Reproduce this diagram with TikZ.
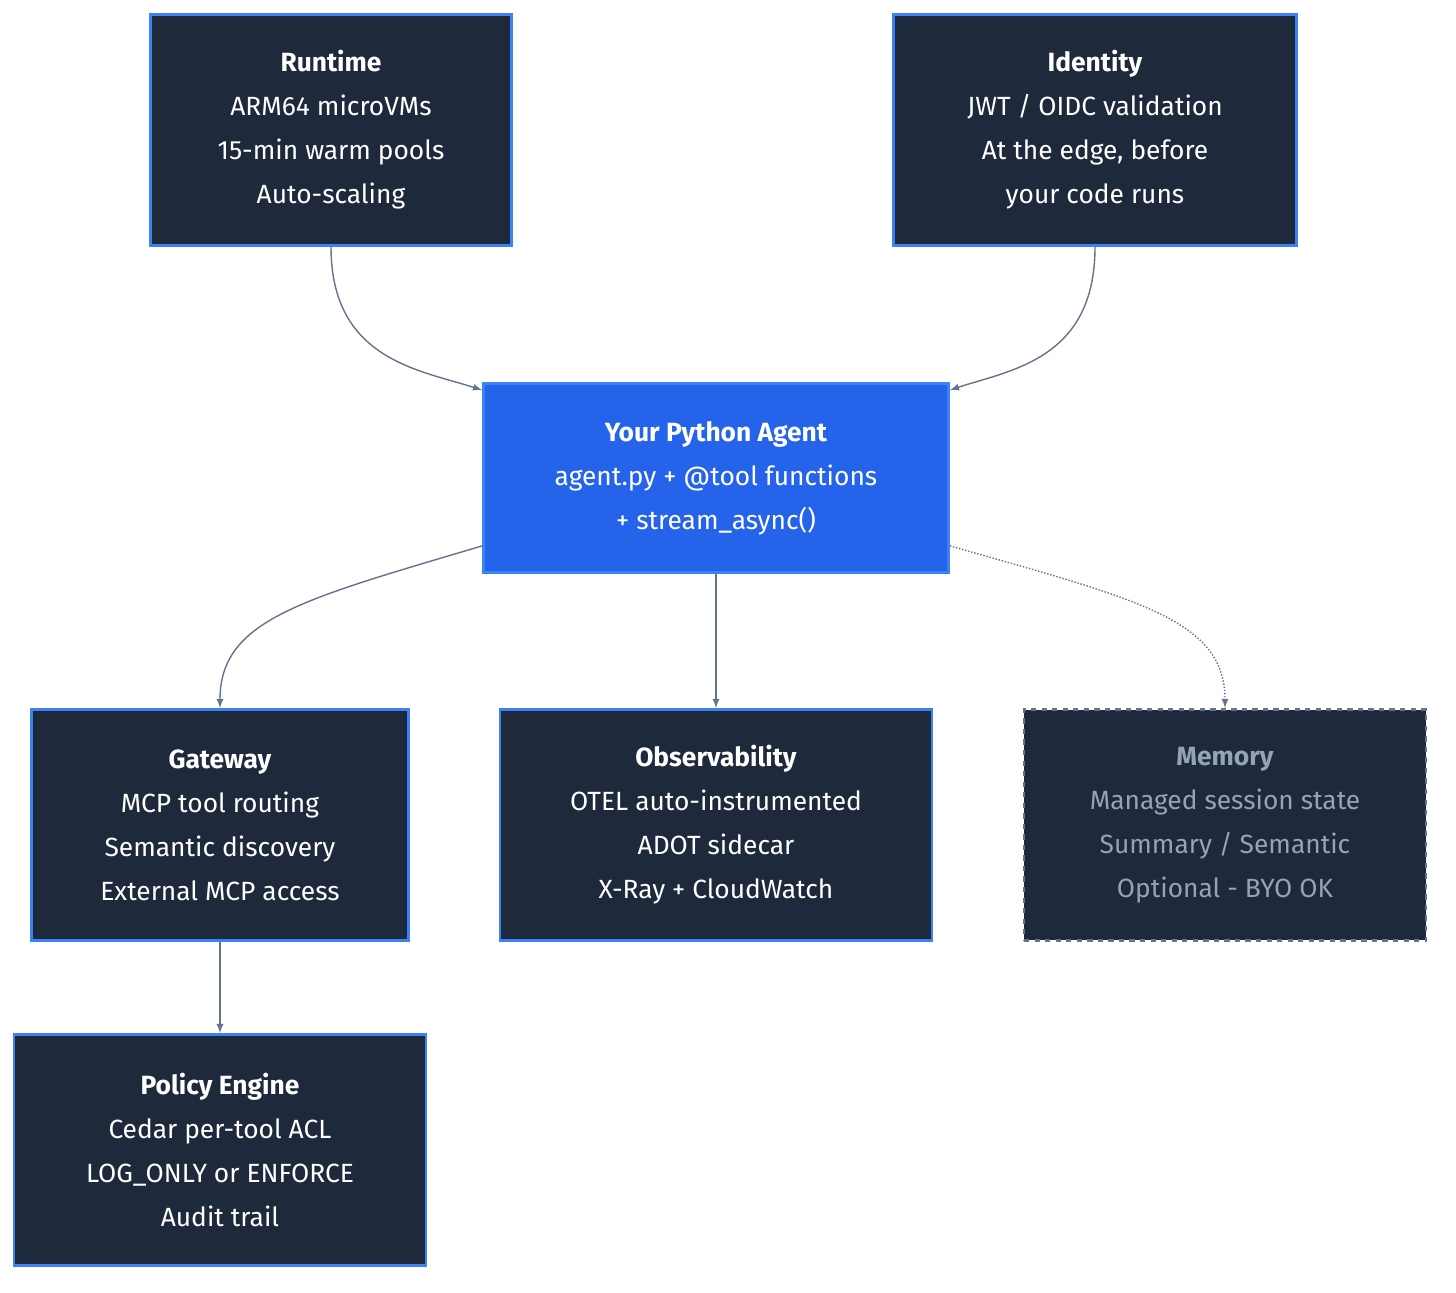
\documentclass[tikz,border=0pt]{standalone}
\usepackage{fontspec}
\setmainfont{Fira Sans}
\usetikzlibrary{positioning}
\definecolor{boxfill}{HTML}{1E293B}
\definecolor{boxline}{HTML}{3B82F6}
\definecolor{agentfill}{HTML}{2563EB}
\definecolor{edgecol}{HTML}{64748B}
\definecolor{dimtext}{HTML}{94A3B8}
\tikzset{
    block/.style={
           rectangle,
           draw=boxline, line width=1.6pt,
           fill=boxfill, text=white,
           font=\fontsize{15}{25}\selectfont,
           align=center, inner sep=0pt},
    link/.style={draw=edgecol, line width=0.8pt, -latex},
}
\begin{document}
\begin{tikzpicture}[x=0.02cm,y=-0.02cm]
 \useasboundingbox (0,0) rectangle (1456,1293);

 \node[block, minimum width=7.22cm, minimum height=4.62cm] (RUNTIME) at (331,130)
 {\textbf{Runtime}\\ARM64 microVMs\\15-min warm pools\\Auto-scaling};

 \node[block, minimum width=8.06cm, minimum height=4.62cm] (IDENTITY) at (1095,130)
 {\textbf{Identity}\\JWT / OIDC validation\\At the edge, before\\your code runs};

 \node[block, fill=agentfill, minimum width=9.3cm, minimum height=3.78cm] (AGENT) at (716,478)
 {\textbf{Your Python Agent}\\agent.py + @tool functions\\+ stream\_async()};

 \node[block, minimum width=7.54cm, minimum height=4.62cm] (GATEWAY) at (220,825)
 {\textbf{Gateway}\\MCP tool routing\\Semantic discovery\\External MCP access};

 \node[block, minimum width=8.64cm, minimum height=4.62cm] (OBSERVABILITY) at (716,825)
 {\textbf{Observability}\\OTEL auto-instrumented\\ADOT sidecar\\X-Ray + CloudWatch};

 \node[block, draw=edgecol, dashed, text=dimtext, minimum width=8.04cm, minimum height=4.62cm] (MEMORY) at (1225,825)
 {\textbf{Memory}\\Managed session state\\Summary / Semantic\\Optional - BYO OK};

 \node[block, minimum width=8.24cm, minimum height=4.62cm] (POLICY) at (220,1150)
 {\textbf{Policy Engine}\\Cedar per-tool ACL\\LOG\_ONLY or ENFORCE\\Audit trail};

 \draw[link] (RUNTIME.south) .. controls (331,360) and (420,370) .. ([yshift=-0.16cm]AGENT.north west);
 \draw[link] (IDENTITY.south) .. controls (1095,360) and (1010,370) .. ([yshift=-0.16cm]AGENT.north east);
 \draw[link] ([yshift=0.56cm]AGENT.south west) .. controls (300,600) and (220,620) .. (GATEWAY.north);
 \draw[link] (AGENT.south) -- (OBSERVABILITY.north);
 \draw[link, densely dotted] ([yshift=0.56cm]AGENT.south east) .. controls (1140,600) and (1225,620) .. (MEMORY.north);
 \draw[link] (GATEWAY.south) -- (POLICY.north);

\end{tikzpicture}
\end{document}
